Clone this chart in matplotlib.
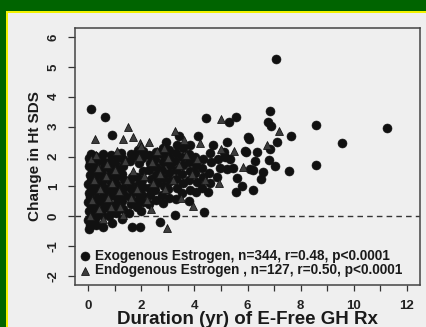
import matplotlib
matplotlib.use("Agg")
import matplotlib.pyplot as plt
from matplotlib.patches import Rectangle

# ---- data ----
exo_x = [
    0.02, 0.08, 0.0, 0.1, 0.04, 0.12, 0.0, 0.07, 0.03, 0.11, 0.0, 0.09, 0.05, 0.13, 0.01, 0.08, 0.04, 0.1,
    0.3, 0.26, 0.33, 0.28, 0.35, 0.24, 0.31, 0.27, 0.34, 0.29, 0.25,
    0.55, 0.5, 0.58, 0.52, 0.6, 0.54, 0.57, 0.5, 0.59, 0.53, 0.56,
    0.9, 0.78, 0.84, 0.76, 0.82, 0.8, 0.86, 0.77, 0.83, 0.79, 0.85,
    1.05, 1.02, 1.08, 1.0, 1.06, 1.03, 1.1, 1.01, 1.07,
    1.28, 1.3, 1.26, 1.33, 1.29, 1.35, 1.27, 1.32, 1.3, 1.25,
    1.65, 1.55, 1.6, 1.57, 1.62, 1.58, 1.63, 1.56, 1.61,
    1.82, 1.88, 1.8, 1.86, 1.83, 1.9, 1.81, 1.87,
    1.95, 2.0, 2.05, 2.02, 2.08, 2.03, 2.06, 2.01, 2.07,
    2.28, 2.33, 2.3, 2.35, 2.27, 2.32, 2.29,
    2.55, 2.52, 2.58, 2.54, 2.57, 2.53, 2.56,
    2.7, 2.82, 2.78, 2.84, 2.8, 2.77, 2.83, 2.79, 2.93, 2.82,
    3.05, 3.02, 3.08, 3.04, 3.07, 3.03, 3.06,
    3.27, 3.3, 3.33, 3.29, 3.32, 3.28, 3.31, 3.35, 3.4,
    3.55, 3.58, 3.53, 3.57, 3.54, 3.56,
    3.78, 3.82, 3.8, 3.83, 3.79, 3.81, 3.84,
    4.05, 4.08, 4.03, 4.07, 4.04, 4.14,
    4.36, 4.3, 4.33, 4.28, 4.32, 4.44, 4.51,
    4.6, 4.55, 4.62, 4.58, 4.7,
    4.85, 4.9, 5.23, 5.3, 5.56, 5.15, 5.23, 5.34, 5.45, 5.6, 5.56, 4.95, 5.1,
    5.9, 6.0, 6.05, 5.94, 6.35, 6.09, 6.2, 6.2, 6.3, 6.58, 6.8, 6.77, 6.84, 6.9,
    7.07, 7.03, 7.1, 6.84, 7.56, 7.63, 8.6, 8.6, 9.55, 11.24, 5.8, 6.5,
    0.11, 0.64, 0.9,
]
exo_y = [
    -0.42, -0.28, -0.12, 0.02, 0.18, 0.33, 0.48, 0.63, 0.78, 0.92, 1.07, 1.22, 1.37, 1.52, 1.67, 1.82, 1.96, 2.08,
    -0.3, -0.08, 0.15, 0.4, 0.62, 0.85, 1.08, 1.32, 1.55, 1.78, 2.02,
    -0.35, 0.05, 0.28, 0.52, 0.75, 0.98, 1.2, 1.42, 1.65, 1.88, 2.08,
    -0.22, 0.02, 0.22, 0.45, 0.68, 0.9, 1.12, 1.35, 1.58, 1.8, 2.05,
    0.12, 0.38, 0.6, 0.85, 1.08, 1.3, 1.55, 1.78, 2.0,
    -0.1, 0.25, 0.5, 0.72, 0.95, 1.2, 1.42, 1.68, 1.9, 2.12,
    -0.37, 0.12, 0.4, 0.65, 0.9, 1.12, 1.32, 1.85, 2.08,
    0.3, 0.55, 0.8, 1.05, 1.3, 1.78, 2.02, 2.22,
    -0.37, 0.17, 0.48, 0.72, 0.98, 1.22, 1.5, 1.95, 2.18,
    0.42, 0.7, 0.95, 1.25, 1.55, 1.78, 2.05,
    0.55, 0.88, 1.12, 1.38, 1.65, 1.92, 2.15,
    -0.2, 0.45, 0.72, 1.02, 1.28, 1.55, 1.82, 2.08, 2.5, 2.3,
    0.62, 0.9, 1.18, 1.45, 1.72, 1.98, 2.22,
    0.03, 0.58, 0.95, 1.25, 1.55, 1.85, 2.12, 2.38, 2.68,
    0.78, 1.1, 1.42, 1.7, 1.98, 2.28,
    0.52, 0.88, 1.2, 1.5, 1.8, 2.08, 2.4,
    0.82, 1.15, 1.45, 1.72, 2.0, 2.68,
    0.13, 0.95, 1.3, 1.6, 1.9, 3.28, 0.8,
    1.1, 1.45, 1.8, 2.12, 2.4,
    1.3, 1.9, 2.5, 3.14, 3.31, 2.0, 1.57, 1.9, 1.6, 1.27, 0.8, 1.6, 2.15,
    2.2, 2.64, 2.6, 2.14, 2.14, 1.57, 1.54, 0.87, 1.85, 1.47, 1.87, 3.14, 3.51, 3.01,
    5.25, 1.67, 2.5, 2.24, 1.5, 2.68, 3.04, 1.7, 2.44, 2.94, 1.0, 1.25,
    3.58, 3.31, 2.71,
]

endo_x = [
    0.26, 1.32, 1.5, 1.69, 1.95, 2.29, 3.27, 5.0, 5.0, 5.5, 6.73, 7.18, 5.83, 4.92, 3.95, 2.97,
    0.1, 0.35, 0.2, 0.45, 0.15, 0.4, 0.7, 0.65, 0.9, 0.75, 1.0, 1.15, 1.2, 1.4, 1.45, 1.6, 1.7, 1.9, 1.85,
    2.1, 2.2, 2.4, 2.45, 2.6, 2.7, 2.9, 3.0, 3.2, 3.4, 3.5, 3.7, 3.9, 4.1, 4.4,
    0.05, 0.55, 0.3, 1.1, 2.0, 2.85, 3.6, 4.2, 0.85, 1.3, 2.35,
]
endo_y = [
    2.58, 2.58, 3.0, 2.64, 2.44, 2.47, 2.87, 3.24, 2.24, 2.17, 2.37, 2.87, 1.64, 1.1, 0.33, -0.4,
    1.9, 1.6, 1.2, 0.9, 0.55, 0.25, 1.75, 1.35, 1.1, 0.6, 1.55, 0.85, 0.3, 1.85, 1.2, 0.6, 1.5, 2.0, 0.9,
    1.35, 0.55, 1.8, 1.1, 2.2, 1.4, 0.9, 1.95, 1.2, 1.7, 0.6, 2.05, 1.4, 1.9, 1.2,
    0.0, -0.1, 2.05, 2.2, 2.35, 2.3, 2.55, 2.45, 0.3, 0.05, 0.25,
]

exo_label = "Exogenous Estrogen, n=344, r=0.48, p<0.0001"
endo_label = "Endogenous Estrogen , n=127, r=0.50, p<0.0001"
x_ticks = list(range(0, 13))
x_ticklabels = [str(t) if t % 2 == 0 else "" for t in x_ticks]
y_ticks = list(range(-2, 7))
x_label = "Duration (yr) of E-Free GH Rx"
y_label = "Change in Ht SDS"

# ---- figure ----
W, H = 427, 327
plt.rcParams['font.family'] = ['Liberation Sans', 'DejaVu Sans']
fig = plt.figure(figsize=(W / 100, H / 100), dpi=100)
fig.patch.set_facecolor("#006400")

bg = fig.add_axes([0, 0, 1, 1], zorder=0)
bg.set_axis_off()
bg.set_xlim(0, 1)
bg.set_ylim(0, 1)
bg.add_patch(Rectangle((6 / W, 0), 1, 1 - 11 / H, facecolor="#f2f200", edgecolor="none"))
bg.add_patch(Rectangle((8 / W, 0), 1, 1 - 13 / H, facecolor="#efefef", edgecolor="none"))

ax = fig.add_axes([75 / W, 1 - 285 / H, 345 / W, 257 / H], zorder=2)
ax.set_facecolor("#efefef")

ax.axhline(0, color="#333333", lw=1.0, linestyle=(0, (4, 3)), zorder=1)

ax.scatter(exo_x, exo_y, s=42, marker="o", facecolor="#111111", edgecolor="#111111",
           linewidths=0.4, zorder=2, label=exo_label)
ax.scatter(endo_x, endo_y, s=32, marker="^", facecolor="#3c3c3c", edgecolor="#151515",
           linewidths=0.6, zorder=3, label=endo_label)

ax.set_xlim(-0.5, 12.5)
ax.set_ylim(-2.3, 6.3)
ax.set_xticks(x_ticks)
ax.set_xticklabels(x_ticklabels, fontsize=9.5, fontweight="bold", color="#222222")
ax.set_yticks(y_ticks)
ax.set_yticklabels([str(t) for t in y_ticks], fontsize=9.5, fontweight="bold",
                   rotation=90, va="center", color="#222222")
ax.tick_params(axis="x", direction="out", length=4, width=0.9, pad=7, colors="#333333",
               labelcolor="#222222")
ax.tick_params(axis="y", direction="out", length=5, width=0.9, pad=6, colors="#333333",
               labelcolor="#222222")

for sp in ax.spines.values():
    sp.set_color("#444444")
    sp.set_linewidth(1.1)

fig.text(247.5 / W, 1 - 320 / H, x_label, fontsize=13.5, fontweight="bold",
         color="#1a1a1a", ha="center", va="center")
ax.set_ylabel(y_label, fontsize=11, fontweight="bold", color="#1a1a1a", labelpad=4)

leg = ax.legend(loc="lower left", bbox_to_anchor=(0.012, 0.03), frameon=False,
                borderpad=0, borderaxespad=0, labelspacing=0.02, handlelength=0.8,
                handletextpad=0.4, prop={"size": 9.8, "weight": "bold"}, scatterpoints=1)
for t in leg.get_texts():
    t.set_color("#1a1a1a")

fig.savefig("out.png", dpi=100, facecolor=fig.get_facecolor())
